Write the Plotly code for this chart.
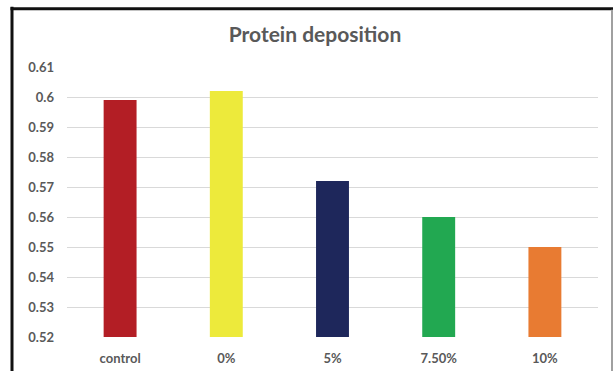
import plotly.graph_objects as go

categories = ["control", "0%", "5%", "7.50%", "10%"]
values = [0.599, 0.602, 0.572, 0.560, 0.550]
colors = ["#B31E25", "#EDEA3B", "#1E275B", "#22A851", "#E87B32"]
y_ticks = [0.52, 0.53, 0.54, 0.55, 0.56, 0.57, 0.58, 0.59, 0.6, 0.61]
y_tick_text = ["0.52", "0.53", "0.54", "0.55", "0.56", "0.57", "0.58", "0.59", "0.6", "0.61"]

fig = go.Figure(go.Bar(x=categories, y=values, marker=dict(color=colors, line=dict(width=0))))

font_family = "Lato, 'Open Sans', sans-serif"
L, R, T, B = 67, 16, 67, 33
W, H = 614, 378
pw, ph = W - L - R, H - T - B

def px_x(p):
    return (p - L) / pw

def px_y(p):
    return (H - B - p) / ph

fig.update_layout(
    autosize=False,
    width=W, height=H,
    margin=dict(l=L, r=R, t=T, b=B, pad=0),
    paper_bgcolor="white", plot_bgcolor="white",
    bargap=0.69,
    showlegend=False,
    title=dict(text="<b>Protein deposition</b>", x=315 / W, xanchor="center",
               y=1 - 35 / H, yanchor="middle",
               font=dict(family=font_family, size=21, color="#595959")),
    xaxis=dict(showgrid=False, showline=False, ticks="", ticklabelstandoff=12,
               tickfont=dict(family=font_family, size=13, color="#595959", weight="bold")),
    yaxis=dict(range=[0.52, 0.61], tickvals=y_ticks, ticktext=y_tick_text,
               showgrid=True, gridcolor="#D9D9D9", gridwidth=1, zeroline=False,
               showline=False, ticks="", ticklabelstandoff=12,
               tickfont=dict(family=font_family, size=13, color="#595959", weight="bold")),
    shapes=[
        dict(type="rect", xref="paper", yref="paper", x0=px_x(10.5), x1=px_x(13.5),
             y0=px_y(5), y1=px_y(380), fillcolor="#111111", line=dict(width=0)),
        dict(type="line", xref="paper", yref="paper", x0=px_x(10.5), x1=px_x(613),
             y0=px_y(7), y1=px_y(7), line=dict(color="#111111", width=3), layer="above"),
        dict(type="rect", xref="paper", yref="paper", x0=px_x(611), x1=px_x(613),
             y0=px_y(8), y1=px_y(380), fillcolor="#A0A0A0", line=dict(width=0)),
    ],
)
fig.write_html("out.html", config={"displayModeBar": False},
               post_script="document.body.style.margin='0';document.body.style.overflow='hidden';"
                           "var d=document.querySelector('.plotly-graph-div');"
                           "d.style.boxShadow='inset 0 6px 0 -3px #111';")
